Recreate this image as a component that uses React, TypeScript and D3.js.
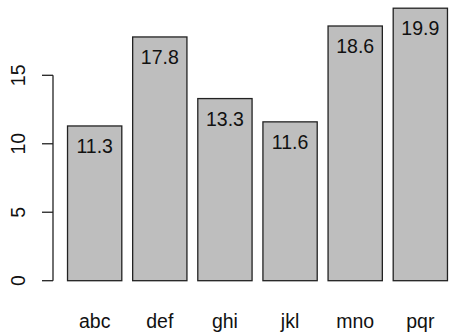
import React from "react";
import * as d3 from "d3";

const categories = ["abc", "def", "ghi", "jkl", "mno", "pqr"];
const values = [11.3, 17.8, 13.3, 11.6, 18.6, 19.9];
const yTicks = [0, 5, 10, 15];

export default function App() {
  const W = 455, H = 335;
  const y = d3.scaleLinear().domain([0, 15]).range([280.7, 75.3]);
  const x = d3.scaleBand<string>().domain(categories).range([62.1, 452.9]).paddingInner(1 / 6).paddingOuter(1 / 12);
  const font = "Liberation Sans, Arial, sans-serif";
  return (
    <svg width={W} height={H} style={{ position: "absolute", left: 0, top: 0, background: "#fff" }}>
      {categories.map((c, i) => (
        <g key={c}>
          <rect x={x(c)} y={y(values[i])} width={x.bandwidth()} height={y(0) - y(values[i])}
            fill="#bebebe" stroke="#222" strokeWidth={1.3} />
          <text x={(x(c) as number) + x.bandwidth() / 2} y={y(values[i]) + 27} textAnchor="middle"
            fontFamily={font} fontSize={19.5} fill="#111">{values[i].toFixed(1)}</text>
          <text x={(x(c) as number) + x.bandwidth() / 2} y={328} textAnchor="middle"
            fontFamily={font} fontSize={19.5} fill="#111">{c}</text>
        </g>
      ))}
      <line x1={53} x2={53} y1={y(0)} y2={y(15)} stroke="#222" strokeWidth={1.3} />
      {yTicks.map(t => (
        <g key={t}>
          <line x1={42} x2={53} y1={y(t)} y2={y(t)} stroke="#222" strokeWidth={1.3} />
          <text transform={`translate(25,${y(t)}) rotate(-90)`} textAnchor="middle"
            fontFamily={font} fontSize={19.5} fill="#111">{t}</text>
        </g>
      ))}
    </svg>
  );
}
